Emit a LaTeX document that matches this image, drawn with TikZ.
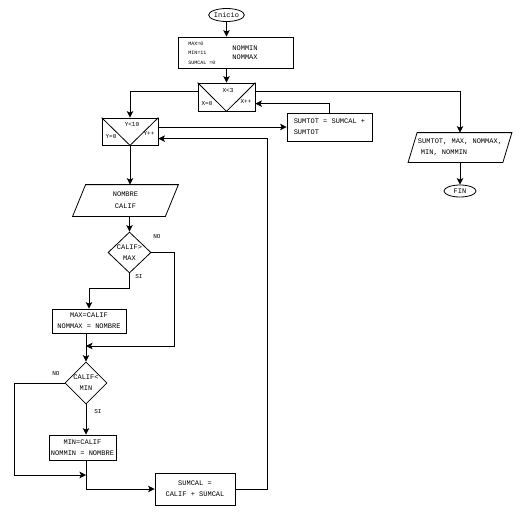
\documentclass[tikz,border=0pt]{standalone}
\usepackage{fontspec}
\setmonofont{Liberation Mono}
\usetikzlibrary{shapes.geometric,arrows.meta,calc}
\begin{document}
\begin{tikzpicture}[x=1pt,y=-1pt,
  font=\ttfamily\fontsize{7}{11}\selectfont,
  line width=0.8pt,
  arr/.style={-{Stealth[length=6.5pt,width=6.5pt,inset=1.5pt]}},
  box/.style={draw, rectangle, inner sep=0pt, align=center},
  loopbox/.style={draw, rectangle, inner sep=0pt},
  term/.style={draw, ellipse, inner sep=0pt},
  dia/.style={draw, diamond, aspect=1, inner sep=0pt, align=center},
  ghost/.style={rectangle, inner sep=0pt},
  lbl/.style={inner sep=0pt, font=\ttfamily\fontsize{6}{8}\selectfont},
  small/.style={inner sep=0pt, font=\ttfamily\fontsize{5}{9.5}\selectfont, align=left}]
\useasboundingbox (0,0) rectangle (523,517);

% terminals
\node[term, minimum width=32pt, minimum height=13pt] (inicio) at (226.5,15) {Inicio};
\node[term, minimum width=32pt, minimum height=12pt] (fin) at (460,191) {FIN};

% init box
\node[box, minimum width=115pt, minimum height=31pt] (init) at (235.5,52.5) {};
\node[small, anchor=west] (initL) at (188,53) {MAX=0\\MIN=11\\SUMCAL =0};
\node[inner sep=0pt, anchor=west, align=left, font=\ttfamily\fontsize{7}{9}\selectfont] (initR) at (232,52.5) {NOMMIN\\NOMMAX};

% loop boxes
\node[loopbox, minimum width=57pt, minimum height=28pt] (xloop) at (226.5,97) {};
\draw (xloop.north west) -- (xloop.south) -- (xloop.north east);
\node[lbl] (xc) at (228,91) {X<3};
\node[lbl] (xi) at (207,104) {X=0};
\node[lbl] (xs) at (246,102) {X++};

\node[loopbox, minimum width=56pt, minimum height=27pt] (yloop) at (130,131.5) {};
\draw (yloop.north west) -- (yloop.south) -- (yloop.north east);
\node[lbl] (yc) at (132,125) {Y<10};
\node[lbl] (yi) at (111,137) {Y=0};
\node[lbl] (ys) at (149,134) {Y++};

% sumtot
\node[box, minimum width=85pt, minimum height=28pt, align=left] (sumtot) at (329.5,127) {SUMTOT = SUMCAL +\\SUMTOT};

% output parallelogram
\node[ghost, minimum width=103pt, minimum height=29pt, align=left] (output) at (460,147.5) {SUMTOT, MAX, NOMMAX,\\\hspace{3pt}MIN, NOMMIN};
\draw ([xshift=9pt]output.north west) -- (output.north east) -- ([xshift=-9pt]output.south east) -- (output.south west) -- cycle;

% input parallelogram
\node[ghost, minimum width=105pt, minimum height=31pt, align=center, font=\ttfamily\fontsize{7}{12}\selectfont] (nombre) at (125.5,200.5) {NOMBRE\\CALIF};
\draw ([xshift=13pt]nombre.north west) -- (nombre.north east) -- ([xshift=-13pt]nombre.south east) -- (nombre.south west) -- cycle;

% decisions
\node[dia, minimum width=43pt, minimum height=41pt] (d1) at (129.5,252.5) {CALIF>\\MAX};
\node[lbl] (no1) at (157,237) {NO};
\node[lbl] (si1) at (139,277) {SI};

\node[box, minimum width=74pt, minimum height=24pt] (maxb) at (89,321) {MAX=CALIF\\NOMMAX = NOMBRE};

\node[dia, minimum width=42pt, minimum height=42pt] (d2) at (86,383) {CALIF<\\MIN};
\node[lbl] (no2) at (56,374) {NO};
\node[lbl] (si2) at (98,412) {SI};

\node[box, minimum width=67pt, minimum height=25pt] (minb) at (82.5,447.5) {MIN=CALIF\\NOMMIN = NOMBRE};

\node[box, minimum width=80pt, minimum height=32pt] (sumcal) at (195,489) {SUMCAL =\\CALIF + SUMCAL};

\coordinate (j1) at (86,346);
\coordinate (j2) at (86,475);

% connectors
\draw[arr] (inicio.south) -- (inicio.south |- init.north);
\draw[arr] (xloop.north |- init.south) -- (xloop.north);
\draw[arr] ([yshift=-9pt]xloop.north west) -| (yloop.north);
\draw[arr] ([yshift=-9pt]xloop.north east) -| (output.north);
\draw[arr] (sumtot.north) |- ([yshift=-21pt]xloop.north east);
\draw[arr] (yloop.east |- sumtot.west) -- (sumtot.west);
\draw[arr] (yloop.south) -- (yloop.south |- nombre.north);
\draw[arr] (d1.north |- nombre.south) -- (d1.north);
\draw[arr] (d1.east) -- ++(23,0) |- (j1);
\draw[arr] (d1.south) -- ++(0,15) -| (maxb.north);
\draw[arr] (d2.north |- maxb.south) -- (d2.north);
\draw[arr] (d2.west) -- ++(-50,0) |- (j2);
\draw[arr] (d2.south) -- (d2.south |- minb.north);
\draw[arr] (d2.south |- minb.south) |- (sumcal.west);
\draw[arr] (sumcal.east) -- ++(32,0) |- ([yshift=-21pt]yloop.north east);
\draw[arr] (fin.north |- output.south) -- (fin.north);
\end{tikzpicture}
\end{document}
